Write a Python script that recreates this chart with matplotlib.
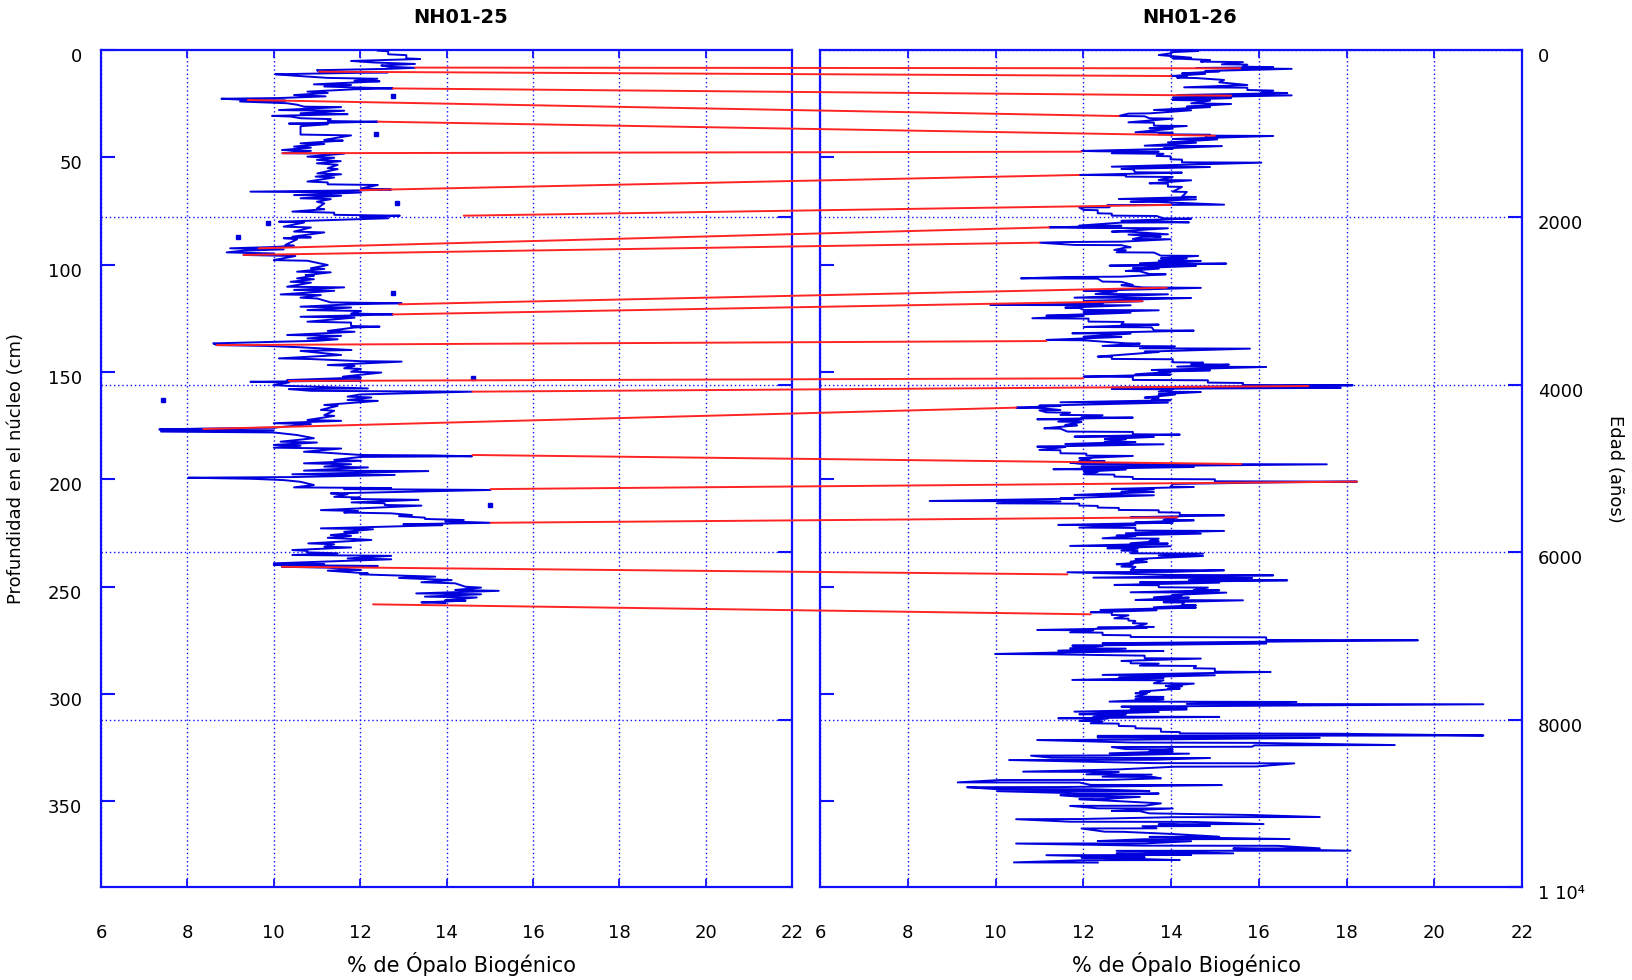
import matplotlib
matplotlib.use("Agg")
import matplotlib.pyplot as plt
import matplotlib.transforms as mtransforms
from matplotlib.patches import ConnectionPatch

# ---------------- data ----------------
core_titles = ["NH01-25", "NH01-26"]
x_label = "% de Ópalo Biogénico"
depth_label = "Profundidad en el núcleo (cm)"
age_label = "Edad (años)"
opal_ticks = [6, 8, 10, 12, 14, 16, 18, 20, 22]
depth_ticks = [0, 50, 100, 150, 200, 250, 300, 350]
age_ticks = [0, 2000, 4000, 6000, 8000, 10000]
age_tick_labels = ["0", "2000", "4000", "6000", "8000", "1 10\u2074"]

# NH01-25 : opal (%) vs depth (cm)
nh25_opal = [
    12.41, 12.65, 12.65, 13.07, 13.07, 13.39, 12.65, 11.79, 12.30, 13.27,
    12.49, 12.65, 13.27, 12.65, 11.00, 11.05, 12.65, 10.04, 10.50, 11.25,
    12.40, 11.87, 12.45, 10.93, 11.79, 11.17, 11.79, 12.76, 11.87, 10.78,
    11.25, 10.47, 11.20, 10.10, 8.79, 9.42, 10.27, 9.22, 10.30, 10.54,
    10.70, 11.56, 10.12, 11.63, 10.62, 11.71, 9.96, 10.39, 10.62, 11.32,
    11.25, 12.41, 11.10, 10.35, 11.25, 10.62, 10.62, 11.79, 11.17, 11.60,
    10.62, 11.17, 10.47, 10.86, 10.19, 10.86, 10.20, 11.63, 10.78, 11.40,
    11.00, 11.55, 11.00, 11.48, 11.25, 11.48, 11.01, 11.56, 10.97, 11.40,
    10.78, 11.25, 11.25, 12.41, 12.02, 12.72, 12.00, 9.46, 12.02, 10.47,
    11.56, 10.62, 11.32, 11.00, 11.17, 11.00, 11.17, 10.43, 11.40, 11.40,
    12.92, 12.00, 12.65, 10.12, 10.70, 10.23, 10.86, 10.47, 11.17, 10.43,
    10.86, 10.23, 10.54, 10.27, 10.47, 10.00, 8.99, 10.23, 9.30, 8.91,
    10.00, 9.30, 10.50, 10.00, 10.78, 11.25, 10.86, 11.17, 10.54, 11.32,
    10.74, 10.93, 10.54, 10.93, 10.39, 10.86, 10.31, 11.63, 10.47, 11.40,
    10.16, 11.09, 10.62, 11.01, 11.32, 12.96, 11.79, 10.62, 11.79, 10.78,
    12.02, 11.79, 12.76, 10.62, 11.87, 10.78, 11.79, 11.79, 12.45, 11.87,
    11.25, 11.87, 10.31, 11.56, 10.78, 11.48, 11.00, 8.60, 8.68, 9.84,
    10.23, 10.60, 11.80, 10.62, 11.56, 10.12, 10.86, 12.02, 12.96, 11.25,
    11.87, 11.63, 12.02, 11.79, 12.49, 11.60, 12.02, 10.31, 12.02, 9.46,
    10.35, 10.00, 10.31, 12.18, 10.35, 10.86, 12.41, 14.59, 12.00, 11.71,
    12.26, 11.71, 12.41, 11.17, 11.48, 11.09, 11.40, 11.17, 11.40, 10.78,
    11.56, 10.00, 10.86, 10.00, 8.37, 7.35, 10.00, 7.39, 10.00, 10.54,
    10.93, 10.16, 11.00, 10.00, 10.62, 10.00, 11.56, 10.70, 11.17, 12.02,
    13.66, 14.59, 12.02, 11.40, 12.02, 10.70, 11.79, 11.17, 12.18, 10.70,
    13.58, 10.43, 12.80, 10.40, 8.02, 9.50, 10.23, 10.62, 10.93, 10.47,
    12.72, 11.63, 15.02, 11.32, 11.71, 11.40, 12.00, 11.80, 13.35, 11.80,
    12.57, 12.57, 13.42, 11.09, 11.95, 11.63, 12.72, 13.20, 12.90, 13.50,
    13.50, 14.40, 13.97, 15.02, 13.00, 13.90, 11.09, 12.30, 11.63, 11.95,
    11.32, 11.79, 11.25, 11.71, 12.26, 10.80, 11.40, 11.17, 11.79, 10.43,
    10.78, 10.78, 11.48, 10.43, 12.72, 11.71, 12.72, 10.00, 11.17, 10.00,
    12.41, 10.19, 11.25, 12.02, 11.25, 12.18, 12.00, 12.45, 13.74, 12.90,
    14.12, 13.42, 14.20, 14.44, 14.80, 14.20, 15.21, 13.30, 14.80, 13.50,
    14.70, 13.97, 14.44, 13.42, 13.97,
]
nh25_depth = [
    0.3, 0.6, 2.0, 2.4, 3.9, 4.2, 4.6, 5.1, 5.8, 6.5,
    7.2, 7.8, 8.3, 8.8, 9.4, 10.1, 10.4, 11.3, 12.0, 13.0,
    13.4, 14.3, 14.6, 16.0, 16.3, 17.0, 17.4, 17.9, 18.3, 19.4,
    20.0, 21.0, 21.6, 22.4, 22.7, 23.3, 23.6, 24.0, 24.8, 25.5,
    26.4, 26.6, 28.0, 28.3, 29.5, 29.9, 30.7, 31.0, 31.8, 32.2,
    33.1, 33.4, 34.0, 34.3, 34.6, 35.5, 39.4, 39.8, 41.9, 42.2,
    43.5, 43.8, 45.0, 45.5, 46.6, 47.0, 48.1, 48.3, 49.7, 50.2,
    51.2, 51.8, 52.8, 53.5, 55.1, 55.5, 57.5, 57.9, 59.0, 59.4,
    61.3, 61.7, 62.6, 62.9, 64.5, 65.0, 65.4, 66.0, 66.4, 67.6,
    67.9, 69.1, 69.5, 70.7, 71.5, 73.8, 74.2, 75.3, 75.8, 76.8,
    77.2, 77.8, 78.4, 80.0, 80.4, 82.3, 82.7, 84.6, 85.0, 87.0,
    87.3, 87.7, 88.2, 90.8, 91.2, 91.8, 92.4, 92.9, 93.5, 94.3,
    94.8, 95.5, 96.0, 97.9, 98.2, 100.2, 101.7, 102.0, 103.3, 103.6,
    104.9, 105.2, 106.4, 106.8, 108.0, 108.4, 110.3, 110.6, 111.8, 112.2,
    113.9, 114.2, 115.4, 115.8, 117.6, 118.0, 118.5, 119.6, 120.0, 121.2,
    121.6, 122.8, 123.2, 124.3, 124.7, 126.6, 127.0, 128.6, 128.9, 129.3,
    130.9, 131.3, 132.8, 133.2, 134.4, 134.8, 135.5, 136.7, 137.5, 137.9,
    138.2, 138.5, 139.8, 140.2, 142.1, 143.7, 144.0, 145.0, 145.2, 146.8,
    147.2, 148.3, 148.6, 149.9, 150.3, 152.2, 152.6, 153.8, 154.0, 154.6,
    154.9, 156.1, 156.5, 157.7, 158.0, 158.8, 159.0, 159.2, 160.5, 161.5,
    161.9, 163.1, 163.5, 165.4, 165.8, 167.7, 168.1, 170.1, 170.5, 172.4,
    172.8, 173.9, 174.3, 176.0, 176.4, 176.8, 177.2, 177.8, 178.2, 179.4,
    180.9, 182.5, 182.9, 184.0, 184.4, 185.3, 185.7, 187.2, 187.6, 188.7,
    188.9, 189.3, 189.6, 191.0, 191.4, 192.6, 193.0, 194.1, 194.5, 196.0,
    196.2, 197.7, 198.0, 199.0, 199.3, 199.8, 200.4, 201.2, 202.7, 203.8,
    204.1, 204.6, 205.0, 206.6, 207.0, 208.2, 208.5, 209.2, 209.6, 210.8,
    211.2, 212.0, 212.3, 214.4, 214.8, 215.5, 215.9, 216.7, 217.2, 217.9,
    218.5, 219.0, 219.6, 220.3, 221.0, 221.4, 222.9, 223.3, 224.5, 224.9,
    226.0, 226.4, 227.3, 227.7, 228.3, 229.9, 230.3, 231.4, 231.8, 233.0,
    233.4, 234.1, 234.5, 235.3, 235.7, 236.9, 237.3, 239.2, 239.6, 240.0,
    240.4, 240.8, 241.2, 242.3, 242.6, 243.9, 244.3, 244.6, 245.4, 246.0,
    247.0, 248.0, 248.5, 250.1, 250.5, 251.6, 252.0, 253.2, 253.6, 254.7,
    255.1, 256.3, 256.6, 257.4, 257.7,
]
# isolated points in NH01-25
nh25_dot_opal = [12.75, 12.37, 9.86, 9.18, 12.86, 12.75, 14.61, 7.43, 15.00]
nh25_dot_depth = [21.3, 39.1, 80.8, 87.3, 71.4, 113.1, 153.0, 163.1, 212.0]

# NH01-26 : opal (%) vs age (years)
nh26_opal = [
    14.04, 14.62, 14.04, 13.99, 13.72, 13.99, 14.46, 14.04, 14.89, 14.68,
    15.64, 15.16, 15.74, 15.64, 16.33, 14.57, 16.75, 14.78, 15.10, 14.25,
    14.78, 13.99, 14.36, 14.14, 14.57, 15.21, 15.10, 15.74, 14.30, 15.74,
    15.74, 16.33, 16.06, 16.65, 14.14, 16.75, 14.04, 15.37, 14.04, 14.89,
    14.46, 15.37, 14.36, 14.89, 13.61, 14.46, 13.51, 13.03, 12.81, 13.40,
    13.51, 14.04, 13.03, 13.61, 13.61, 14.36, 13.51, 14.04, 13.19, 14.04,
    13.72, 14.89, 14.78, 16.33, 14.04, 15.05, 13.93, 14.57, 13.40, 15.16,
    13.83, 14.04, 11.96, 12.33, 13.72, 12.65, 13.83, 13.67, 13.99, 13.99,
    14.25, 14.25, 16.06, 12.65, 14.89, 12.87, 13.13, 13.19, 14.25, 11.91,
    12.97, 12.97, 14.04, 13.72, 14.46, 13.51, 13.93, 13.93, 14.25, 14.04,
    14.36, 14.25, 14.57, 12.81, 14.57, 13.08, 13.72, 15.21, 12.55, 12.60,
    11.91, 12.01, 12.33, 12.33, 12.65, 12.65, 13.67, 13.83, 14.46, 12.87,
    14.41, 12.87, 11.91, 12.87, 11.22, 11.91, 13.93, 12.65, 13.08, 13.93,
    13.03, 13.77, 13.35, 13.13, 13.99, 12.87, 11.64, 11.00, 11.80, 12.87,
    13.08, 12.97, 12.71, 12.97, 12.76, 13.61, 13.77, 14.62, 13.77, 14.36,
    13.72, 14.68, 13.29, 15.26, 12.60, 14.57, 13.13, 13.72, 12.97, 13.29,
    13.51, 13.88, 12.87, 11.59, 10.58, 12.33, 12.44, 12.87, 13.13, 12.87,
    13.35, 14.68, 12.01, 12.76, 12.28, 13.93, 11.80, 14.46, 12.01, 13.35,
    11.91, 12.44, 9.88, 13.08, 11.59, 11.91, 12.01, 13.72, 12.01, 13.08,
    11.16, 12.01, 10.84, 12.12, 12.12, 12.92, 12.87, 13.72, 12.01, 13.56,
    13.61, 14.52, 11.75, 13.08, 12.01, 12.87, 11.16, 12.01, 12.97, 13.29,
    12.44, 14.09, 13.29, 15.80, 13.40, 13.72, 12.33, 12.65, 12.65, 14.04,
    14.04, 14.73, 14.46, 15.32, 14.14, 16.17, 13.56, 14.89, 13.72, 13.99,
    13.19, 13.99, 12.01, 13.13, 13.13, 14.84, 14.84, 15.64, 15.64, 18.14,
    12.65, 17.87, 12.65, 14.04, 13.72, 14.68, 13.72, 14.09, 13.40, 13.72,
    13.56, 13.99, 11.48, 13.93, 11.00, 11.48, 10.47, 11.00, 11.48, 11.00,
    11.16, 11.70, 11.48, 12.44, 11.96, 13.13, 10.95, 11.96, 11.43, 11.96,
    11.59, 11.86, 11.11, 11.48, 11.64, 13.13, 13.13, 14.20, 11.80, 13.61,
    12.49, 12.97, 12.49, 13.19, 11.59, 13.83, 10.95, 11.59, 11.00, 11.48,
    11.48, 12.07, 12.07, 13.13, 11.91, 12.17, 11.91, 12.49, 11.70, 11.96,
    17.55, 11.96, 14.52, 11.32, 12.97, 12.01, 12.33, 12.01, 12.71, 12.71,
    13.13, 13.13, 15.00, 15.00, 18.24, 16.49, 14.04, 13.99, 14.52, 12.65,
    13.61, 12.87, 13.61, 11.80, 13.61, 11.48, 11.80, 8.50, 11.48, 10.04,
    11.91, 11.91, 12.33, 12.33, 12.81, 12.81, 13.72, 13.72, 14.20, 14.20,
    15.21, 13.08, 14.14, 13.83, 14.52, 13.19, 14.04, 11.43, 13.19, 11.91,
    13.19, 13.19, 15.21, 12.97, 14.68, 12.76, 13.19, 12.44, 13.72, 13.51,
    13.72, 13.08, 13.93, 11.70, 13.99, 12.55, 13.24, 12.87, 13.24, 13.08,
    14.73, 13.72, 14.73, 13.19, 13.45, 13.08, 13.45, 12.76, 13.13, 12.87,
    13.19, 13.08, 15.21, 14.04, 11.64, 14.04, 16.33, 12.23, 15.85, 14.41,
    16.65, 13.29, 15.10, 12.71, 13.72, 13.72, 14.84, 14.52, 15.10, 13.08,
    15.26, 14.04, 14.25, 13.61, 14.41, 13.19, 15.64, 13.83, 14.30, 14.25,
    14.57, 13.61, 14.57, 12.39, 13.67, 12.17, 12.65, 12.65, 13.03, 12.71,
    13.03, 13.03, 13.19, 13.13, 13.45, 13.19, 13.61, 12.33, 13.45, 10.95,
    12.23, 11.70, 12.44, 12.44, 13.08, 13.08, 16.17, 16.17, 19.63, 12.44,
    16.17, 11.75, 12.44, 11.70, 12.97, 11.43, 13.83, 11.32, 9.99, 11.27,
    13.40, 13.40, 14.68, 12.87, 13.08, 13.08, 13.72, 13.29, 14.57, 14.52,
    15.00, 15.00, 16.27, 12.44, 15.00, 12.81, 13.83, 11.75, 13.83, 13.61,
    14.52, 13.88, 14.25, 13.93, 14.20, 13.29, 13.51, 13.19, 13.45, 13.19,
    13.83, 13.19, 13.83, 12.60, 16.86, 14.36, 21.12, 12.87, 14.36, 13.08,
    14.36, 11.80, 13.72, 11.91, 12.97, 12.23, 15.10, 11.43, 12.55, 11.91,
    12.44, 12.17, 12.81, 12.81, 13.19, 13.19, 13.77, 13.77, 14.20, 14.20,
    17.82, 21.12, 12.33, 12.33, 17.39, 13.13, 10.95, 13.13, 15.90, 19.10,
    15.90, 15.85, 12.65, 12.97, 14.04, 13.51, 14.04, 12.60, 14.41, 12.55,
    10.81, 11.27, 14.89, 13.61, 10.31, 13.61, 16.81, 15.95, 14.09, 12.81,
    10.63, 12.81, 12.07, 13.56, 12.44, 13.61, 13.77, 12.55, 10.10, 9.14,
    11.91, 12.17, 15.16, 11.48, 9.35, 9.99, 12.17, 13.51, 10.04, 11.91,
    13.72, 12.44, 11.48, 11.91, 13.29, 12.44, 11.91, 12.76, 13.77, 13.40,
    11.70, 12.33, 14.04, 12.65, 13.29, 13.51, 15.85, 17.39, 14.04, 11.91,
    10.47, 11.70, 14.46, 16.11, 13.72, 14.89, 13.35, 13.67, 11.96, 12.49,
    12.92, 14.04, 15.10, 13.51, 16.70, 13.40, 12.33, 14.46, 13.40, 10.47,
    13.40, 16.43, 17.39, 15.42, 18.09, 12.76, 15.42, 12.76, 14.46, 11.16,
    13.40, 11.96, 14.20, 12.01, 10.42, 12.33,
]
nh26_age = [
    5, 12, 25, 40, 60, 72, 92, 100, 120, 139,
    145, 171, 175, 199, 205, 215, 225, 251, 255, 279,
    285, 311, 315, 330, 335, 358, 386, 418, 446, 450,
    478, 485, 506, 515, 538, 542, 569, 575, 597, 605,
    637, 645, 677, 682, 717, 720, 757, 760, 788, 792,
    816, 820, 864, 868, 904, 908, 936, 940, 983, 987,
    1007, 1012, 1023, 1027, 1063, 1068, 1103, 1108, 1143, 1148,
    1175, 1180, 1206, 1210, 1215, 1234, 1240, 1266, 1270, 1306,
    1310, 1342, 1346, 1394, 1398, 1421, 1425, 1461, 1465, 1493,
    1497, 1513, 1517, 1553, 1557, 1593, 1597, 1632, 1636, 1692,
    1696, 1752, 1756, 1780, 1784, 1812, 1816, 1848, 1853, 1879,
    1882, 1911, 1914, 1951, 1955, 1979, 1983, 2011, 2015, 2040,
    2059, 2062, 2098, 2100, 2119, 2125, 2130, 2170, 2172, 2202,
    2205, 2230, 2233, 2258, 2261, 2290, 2294, 2302, 2329, 2332,
    2357, 2360, 2389, 2392, 2417, 2420, 2457, 2460, 2489, 2492,
    2517, 2520, 2548, 2552, 2576, 2580, 2608, 2612, 2640, 2644,
    2676, 2680, 2708, 2712, 2728, 2732, 2767, 2770, 2807, 2810,
    2836, 2842, 2879, 2883, 2915, 2919, 2959, 2963, 2998, 3002,
    3026, 3030, 3046, 3050, 3078, 3082, 3106, 3110, 3134, 3138,
    3174, 3178, 3205, 3209, 3245, 3249, 3277, 3281, 3309, 3313,
    3349, 3353, 3385, 3389, 3424, 3428, 3464, 3468, 3504, 3508,
    3536, 3540, 3564, 3568, 3604, 3608, 3663, 3667, 3691, 3695,
    3731, 3735, 3755, 3759, 3783, 3787, 3823, 3827, 3843, 3847,
    3874, 3878, 3902, 3906, 3942, 3946, 3974, 3978, 4002, 4006,
    4032, 4036, 4050, 4054, 4082, 4086, 4113, 4117, 4153, 4157,
    4181, 4185, 4209, 4213, 4249, 4253, 4273, 4277, 4301, 4305,
    4329, 4333, 4360, 4364, 4388, 4392, 4412, 4416, 4440, 4444,
    4480, 4484, 4520, 4524, 4559, 4563, 4591, 4595, 4619, 4623,
    4647, 4651, 4679, 4683, 4707, 4711, 4739, 4743, 4778, 4782,
    4818, 4822, 4846, 4850, 4878, 4882, 4910, 4914, 4930, 4946,
    4950, 4978, 4982, 5009, 5013, 5037, 5041, 5069, 5073, 5097,
    5101, 5125, 5129, 5153, 5157, 5165, 5185, 5217, 5221, 5244,
    5248, 5276, 5280, 5316, 5320, 5356, 5360, 5388, 5392, 5416,
    5420, 5443, 5447, 5467, 5471, 5495, 5499, 5523, 5527, 5555,
    5559, 5583, 5587, 5615, 5619, 5643, 5647, 5674, 5678, 5706,
    5710, 5742, 5746, 5774, 5778, 5802, 5806, 5834, 5838, 5865,
    5869, 5893, 5897, 5925, 5929, 5953, 5957, 5981, 5985, 6013,
    6017, 6041, 6045, 6081, 6085, 6113, 6117, 6144, 6148, 6172,
    6176, 6212, 6216, 6235, 6240, 6272, 6276, 6304, 6308, 6332,
    6336, 6360, 6364, 6391, 6395, 6419, 6423, 6451, 6455, 6479,
    6483, 6511, 6515, 6539, 6543, 6571, 6575, 6598, 6602, 6630,
    6634, 6658, 6662, 6690, 6694, 6718, 6722, 6750, 6754, 6790,
    6794, 6817, 6821, 6849, 6853, 6889, 6893, 6901, 6905, 6929,
    6933, 6957, 6961, 6989, 6993, 7013, 7017, 7048, 7052, 7088,
    7092, 7116, 7120, 7148, 7152, 7176, 7180, 7200, 7216, 7220,
    7236, 7267, 7271, 7299, 7303, 7327, 7331, 7355, 7359, 7387,
    7391, 7427, 7431, 7466, 7470, 7498, 7502, 7526, 7530, 7566,
    7570, 7598, 7602, 7626, 7630, 7666, 7670, 7686, 7690, 7725,
    7729, 7753, 7757, 7785, 7789, 7813, 7817, 7845, 7849, 7873,
    7877, 7905, 7909, 7936, 7940, 7964, 7968, 7984, 7988, 8016,
    8020, 8044, 8048, 8076, 8080, 8104, 8108, 8145, 8149, 8165,
    8169, 8190, 8194, 8214, 8218, 8240, 8244, 8274, 8278, 8304,
    8308, 8324, 8328, 8352, 8356, 8376, 8380, 8403, 8407, 8428,
    8431, 8455, 8459, 8480, 8483, 8520, 8523, 8560, 8563, 8595,
    8622, 8626, 8654, 8658, 8682, 8686, 8702, 8720, 8722, 8750,
    8752, 8780, 8782, 8806, 8808, 8830, 8832, 8853, 8855, 8881,
    8883, 8901, 8903, 8921, 8923, 8949, 8951, 8973, 9001, 9029,
    9031, 9060, 9062, 9092, 9094, 9120, 9140, 9164, 9166, 9188,
    9190, 9220, 9222, 9248, 9250, 9272, 9274, 9299, 9301, 9339,
    9341, 9367, 9399, 9401, 9427, 9429, 9451, 9453, 9479, 9481,
    9506, 9508, 9538, 9540, 9566, 9568, 9598, 9600, 9618, 9620,
    9646, 9648, 9678, 9680, 9706, 9708,
]

# correlation tie points (NH01-25 depth/opal  <->  NH01-26 age/opal)
tie_opal_25 = [13.27, 11.05, 12.76, 9.40, 12.41, 10.20, 12.00, 14.40, 9.65, 9.30,
               12.90, 12.76, 8.68, 10.35, 14.60, 8.37, 14.60, 15.02, 15.02, 10.19, 12.30]
tie_depth_25 = [8.2, 10.1, 17.9, 23.3, 33.4, 48.1, 65.3, 77.2, 92.4, 95.5,
                118.5, 123.2, 137.5, 154.2, 159.2, 176.6, 188.7, 204.6, 220.3, 240.8, 258.3]
tie_opal_26 = [15.58, 14.00, 15.37, 12.81, 15.00, 11.96, 11.90, 14.00, 11.22, 11.00,
               13.90, 13.35, 11.16, 12.00, 17.13, 10.47, 15.60, 18.24, 14.15, 11.64, 12.17]
tie_age_26 = [219, 311, 546, 789, 1024, 1215, 1493, 1851, 2119, 2302,
              2840, 3000, 3477, 3923, 4015, 4273, 4946, 5157, 5583, 6265, 6742]

assert len(nh25_opal) == len(nh25_depth)
assert len(nh26_opal) == len(nh26_age)

# ---------------- style ----------------
AX_BLUE = "#1010ff"
LINE_BLUE = "#0000dc"
RED = "#ff2424"
DOTTED = (0, (1, 2))

plt.rcParams["font.family"] = ["DejaVu Sans"]

W, H = 1632, 980
fig = plt.figure(figsize=(W / 100, H / 100), dpi=100)
ax1 = fig.add_axes([101 / W, 1 - 887 / H, 691 / W, 837 / H])
ax2 = fig.add_axes([820 / W, 1 - 887 / H, 702 / W, 837 / H])

# twin axes first (twinx resets tick sides of the parent)
ax1b = ax1.twinx()
ax2b = ax2.twinx()

label_shift = mtransforms.ScaledTranslation(0, -5 / 100, fig.dpi_scale_trans)

for ax in (ax1, ax2):
    ax.set_xlim(opal_ticks[0], opal_ticks[-1])
    ax.set_xticks(opal_ticks)
    ax.set_xticklabels([str(t) for t in opal_ticks])
    ax.tick_params(axis="x", direction="in", top=True, bottom=True, length=6,
                   width=1.3, color=AX_BLUE, labelsize=13, pad=26.5)
    ax.xaxis.grid(True, color=AX_BLUE, lw=1.0, ls=DOTTED)
    ax.set_axisbelow(True)
    for s in ax.spines.values():
        s.set_color(AX_BLUE)
        s.set_linewidth(1.6)
    ax.set_xlabel(x_label, fontsize=15)
    ax.xaxis.set_label_coords(0.522, -(964 - 887) / 837)
    ax.xaxis.label.set_va("center")

# ----- left panel: depth axis -----
ax1.set_ylim(390, 0)
ax1.yaxis.tick_left()
ax1.set_yticks(depth_ticks)
ax1.set_yticklabels([str(t) for t in depth_ticks])
ax1.tick_params(axis="y", direction="in", length=10, width=1.5, color=AX_BLUE,
                labelsize=13, pad=13.5, left=True, right=False)
for t in ax1.yaxis.get_major_ticks():
    t.label1.set_transform(t.label1.get_transform() + label_shift)
ax1.set_ylabel(depth_label, fontsize=13)
ax1.yaxis.set_label_coords(-(101 - 15.6) / 691, 0.5)
ax1.yaxis.label.set_va("center")

# age grid / ticks inside left panel (drawn beneath the data)
ax1b.set_ylim(age_ticks[-1], 0)
ax1b.set_yticks(age_ticks[1:-1])
ax1b.yaxis.tick_right()
ax1b.tick_params(axis="y", direction="in", length=10, width=1.5, color=AX_BLUE,
                 labelright=False, labelleft=False, right=True, left=False)
ax1b.yaxis.grid(True, color=AX_BLUE, lw=1.0, ls=DOTTED)
for s in ax1b.spines.values():
    s.set_visible(False)
ax1b.set_zorder(ax1.get_zorder() - 1)
ax1.patch.set_visible(False)

ax1.plot(nh25_opal, nh25_depth, color=LINE_BLUE, lw=1.4, zorder=3)
ax1.plot(nh25_dot_opal, nh25_dot_depth, ls="none", marker="s", ms=2.3,
         color=LINE_BLUE, zorder=3)

# ----- right panel: age axis on the right -----
ax2.set_ylim(age_ticks[-1], 0)
ax2.yaxis.tick_right()
ax2.set_yticks(age_ticks)
ax2.set_yticklabels(age_tick_labels)
ax2.tick_params(axis="y", direction="in", length=10, width=1.5, color=AX_BLUE,
                labelsize=13, pad=11.5, left=False, right=True,
                labelleft=False, labelright=True)
for t in ax2.yaxis.get_major_ticks():
    t.label2.set_transform(t.label2.get_transform() + label_shift)
ax2.yaxis.grid(True, color=AX_BLUE, lw=1.0, ls=DOTTED)
ax2.yaxis.set_label_position("right")
ax2.set_ylabel(age_label, fontsize=13, rotation=-90)
ax2.yaxis.set_label_coords((1615 - 820) / 702, 0.5)
ax2.yaxis.label.set_va("center")

ax2.plot(nh26_opal, nh26_age, color=LINE_BLUE, lw=1.4, zorder=3)

# depth ticks on the left spine of the right panel
ax2b.set_ylim(390, 0)
ax2b.yaxis.tick_left()
ax2b.set_yticks(depth_ticks[1:])
ax2b.tick_params(axis="y", direction="in", length=10, width=1.5, color=AX_BLUE,
                 labelleft=False, labelright=False, right=False, left=True)
for s in ax2b.spines.values():
    s.set_visible(False)

# titles
ax1.text(0.521, 1 + (50 - 17.7) / 837, core_titles[0], transform=ax1.transAxes,
         ha="center", va="center", fontsize=14, fontweight="bold")
ax2.text(0.527, 1 + (50 - 17.7) / 837, core_titles[1], transform=ax2.transAxes,
         ha="center", va="center", fontsize=14, fontweight="bold")

# correlation lines between the two cores
for o1, d1, o2, a2 in zip(tie_opal_25, tie_depth_25, tie_opal_26, tie_age_26):
    cp = ConnectionPatch(xyA=(o1, d1), coordsA=ax1.transData,
                         xyB=(o2, a2), coordsB=ax2.transData,
                         color=RED, lw=1.4, shrinkA=0, shrinkB=0, zorder=5)
    fig.add_artist(cp)

fig.savefig("out.png", dpi=100, facecolor="white")
